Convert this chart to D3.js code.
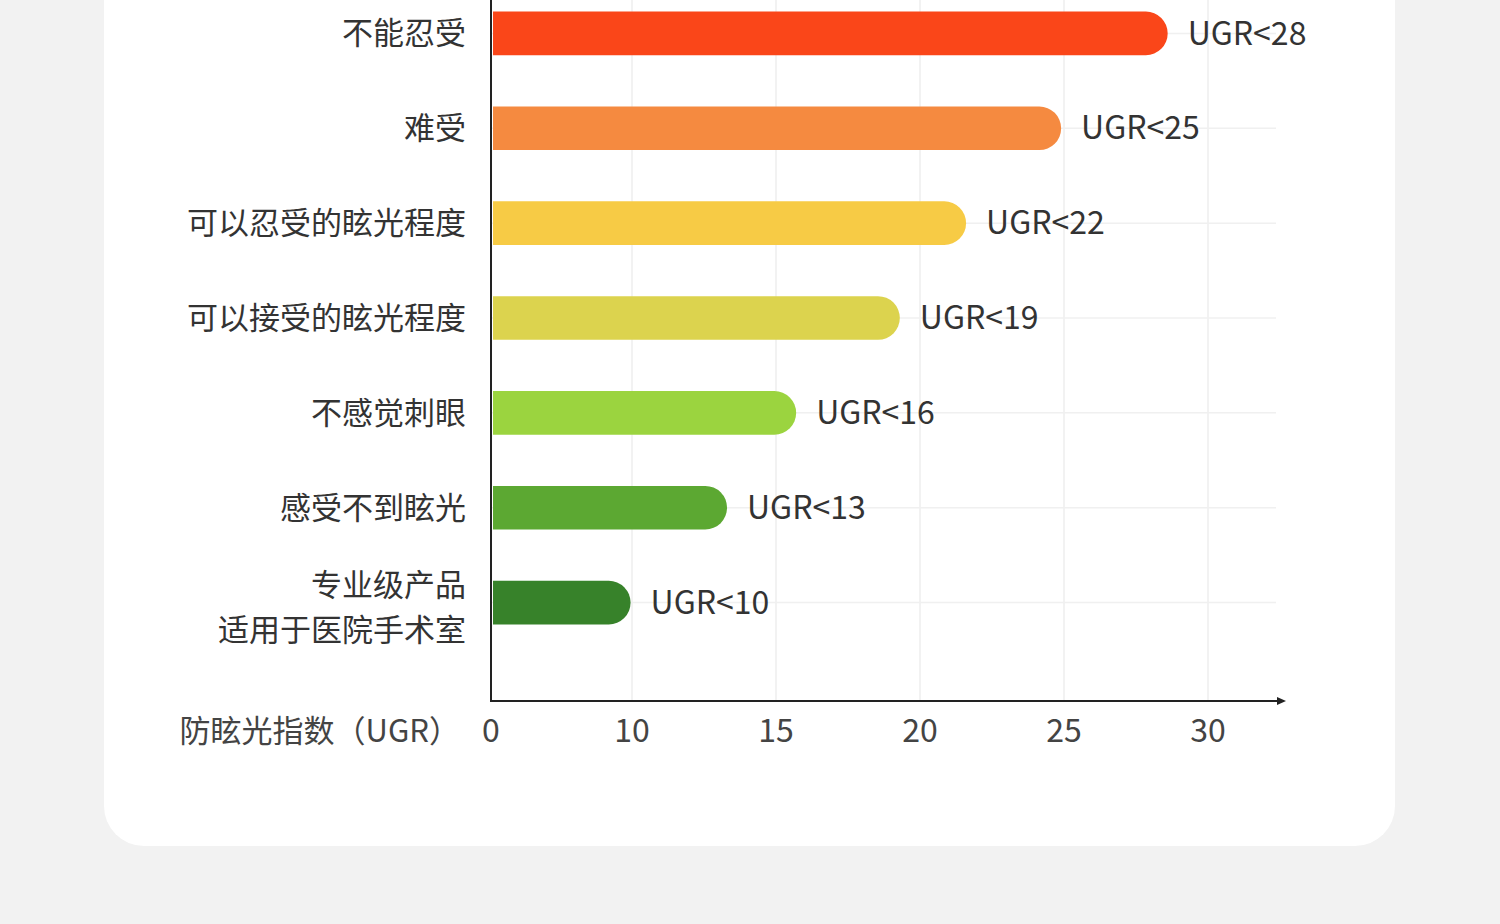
<!DOCTYPE html>
<html><head><meta charset="utf-8">
<script src="https://cdn.jsdelivr.net/npm/d3@7"></script>
<style>body{margin:0;background:#f2f2f2}svg{display:block}</style>
</head><body>
<svg width="1500" height="924"></svg>
<script>
const categories = [["不能忍受"], ["难受"], ["可以忍受的眩光程度"], ["可以接受的眩光程度"], ["不感觉刺眼"], ["感受不到眩光"], ["专业级产品", "适用于医院手术室"]];
const values = [28.6, 24.9, 21.6, 19.3, 15.7, 13.3, 9.9];
const valueLabels = ["UGR<28", "UGR<25", "UGR<22", "UGR<19", "UGR<16", "UGR<13", "UGR<10"];
const colors = ["#fa4619", "#f58a40", "#f7cb45", "#dcd34e", "#9bd43f", "#5ca832", "#37822a"];
const ticks = [0, 10, 15, 20, 25, 30];
const axisTitle = "防眩光指数（UGR）";

const svg = d3.select("svg");
svg.append("rect").attr("x", 104).attr("y", -60).attr("width", 1291).attr("height", 906)
  .attr("rx", 40).attr("fill", "#fff");

const x = d3.scaleLinear().domain([0, 10, 30]).range([491, 632, 1208]);
const y = d3.scaleBand().domain(d3.range(categories.length)).range([-14, 650]).paddingInner(0.54).paddingOuter(0.27);
const bh = y.bandwidth();
const font = "'Noto Sans CJK SC', 'Noto Sans', sans-serif";

// grid
svg.append("g").selectAll("line").data(ticks.slice(1)).join("line")
  .attr("x1", d => x(d)).attr("x2", d => x(d)).attr("y1", 0).attr("y2", 700)
  .attr("stroke", "#eeeeee").attr("stroke-width", 1.5);
svg.append("g").selectAll("line").data(d3.range(categories.length)).join("line")
  .attr("x1", 491).attr("x2", 1276).attr("y1", i => y(i) + bh / 2).attr("y2", i => y(i) + bh / 2)
  .attr("stroke", "#f0f0f0").attr("stroke-width", 1.5);

// bars
const r = bh / 2;
svg.append("g").selectAll("path").data(values).join("path")
  .attr("fill", (d, i) => colors[i])
  .attr("d", (d, i) => {
    const x0 = 493, x1 = x(d), t = y(i);
    return `M${x0},${t}H${x1 - r}A${r},${r} 0 0 1 ${x1 - r},${t + bh}H${x0}Z`;
  });

svg.append("g").selectAll("text").data(values).join("text")
  .attr("x", d => x(d) + 20).attr("y", (d, i) => y(i) + bh / 2).attr("dy", "0.35em")
  .attr("font-family", font).attr("font-size", 32).attr("fill", "#333")
  .text((d, i) => valueLabels[i]);

// category labels
const cl = svg.append("g").selectAll("text").data(categories).join("text")
  .attr("text-anchor", "end").attr("font-family", font).attr("font-size", 31).attr("fill", "#333")
  .attr("x", 467).attr("y", (d, i) => y(i) + bh / 2 + (d.length > 1 ? -17 : 0));
cl.selectAll("tspan").data(d => d).join("tspan")
  .attr("x", 466).attr("dy", (d, j) => j === 0 ? "0.35em" : "1.45em").text(d => d);

// axes
svg.append("line").attr("x1", 491).attr("x2", 491).attr("y1", 0).attr("y2", 701).attr("stroke", "#222").attr("stroke-width", 2);
svg.append("line").attr("x1", 490).attr("x2", 1280).attr("y1", 701).attr("y2", 701).attr("stroke", "#222").attr("stroke-width", 2);
svg.append("path").attr("d", "M1286,701L1277,697L1277,705Z").attr("fill", "#222");

svg.append("g").selectAll("text").data(ticks).join("text")
  .attr("x", d => x(d)).attr("y", 731).attr("dy", "0.35em").attr("text-anchor", "middle")
  .attr("font-family", font).attr("font-size", 32).attr("fill", "#444").text(d => d);
svg.append("text").attr("x", 460).attr("y", 731).attr("dy", "0.35em").attr("text-anchor", "end")
  .attr("font-family", font).attr("font-size", 31).attr("fill", "#444").text(axisTitle);
</script>
</body></html>
